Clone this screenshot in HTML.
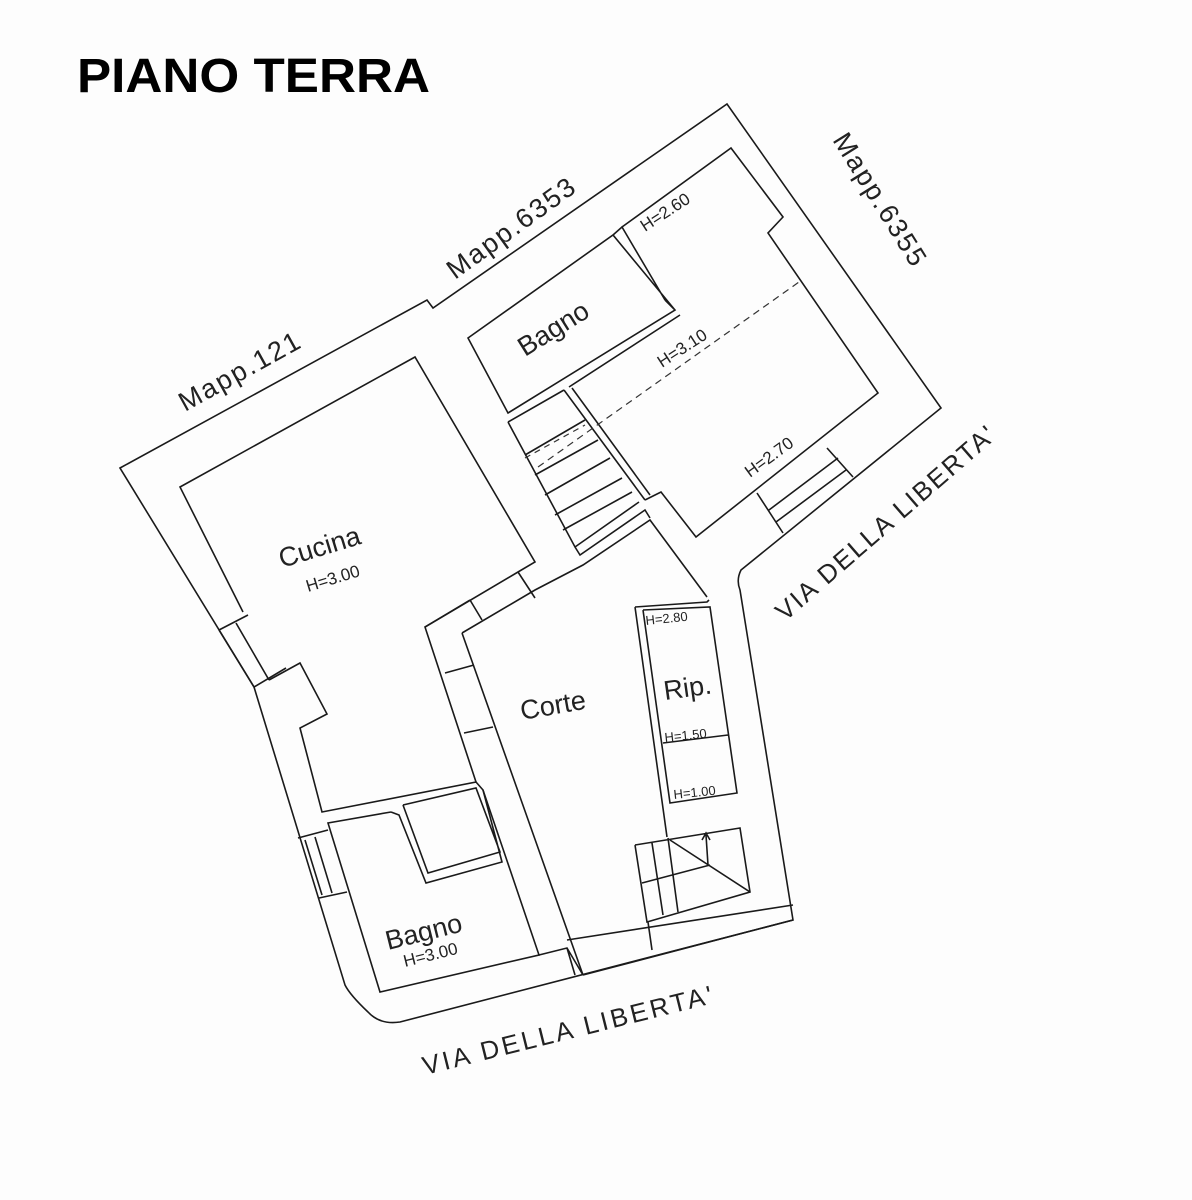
<!DOCTYPE html>
<html><head><meta charset="utf-8"><style>
html,body{margin:0;padding:0;background:#fff;}
svg{display:block;}
.w{fill:none;stroke:#1a1a1a;stroke-width:1.6;stroke-linejoin:miter;}
.t{font-family:"Liberation Sans",sans-serif;fill:#222;}
</style></head><body>
<svg width="1192" height="1200" viewBox="0 0 1192 1200" xmlns="http://www.w3.org/2000/svg">
<rect width="1192" height="1200" fill="#fdfdfd"/>
<text x="77" y="92" class="t" textLength="353" lengthAdjust="spacingAndGlyphs" style="font-weight:bold;font-size:48px;fill:#000">PIANO TERRA</text>

<!-- outer boundary -->
<path class="w" d="M120,468 L427,300 L433,308 L727,104 L941,408 L741,570 Q736,580 740,590 L793,920 L400,1022 Q380,1025 368,1012 Q350,995 345,985 L254,687 Z"/>

<!-- Cucina -->
<path class="w" d="M243,612 L180,487 L415,357 L535,562 L518,572 L425,627 L476,782 L322,812 L300,728 L327,714 L300,663 L269,680"/>
<!-- cucina left window -->
<path class="w" d="M219,630 L254,687 M236,623 L269,680 M219,630 L248,615 M254,687 L286,668"/>
<!-- wall cucina/corte door -->
<path class="w" d="M518,572 L535,598 M470,600 L482,620 M425,627 L470,600"/>

<!-- Corte walls -->
<path class="w" d="M462,633 L583,975 M462,633 L535,590 L583,565 L650,520 L707,597"/>
<path class="w" d="M445,673 L474,665 M464,733 L493,727"/>
<path class="w" d="M476,782 L483,790 L539,955 L380,992 L328,823 L391,812"/>
<!-- bagno lower shower -->
<path class="w" d="M391,812 L399,815 L426,883 L502,862 L483,790 M403,805 L476,788 L500,852 L428,873 L403,805"/>
<path class="w" d="M298,838 L328,830 M305,840 L322,895 M315,837 L332,893 M319,898 L347,892"/>
<path class="w" d="M539,955 L567,948 L583,975 M567,948 L575,975 M583,975 L793,920 M567,940 L793,905"/>

<!-- Rip -->
<path class="w" d="M635,607 L707,602 L709,600 M635,607 L667,837 M643,610 L670,803 L737,793 L710,607 L643,610 M663,743 L728,735"/>
<!-- stair bottom -->
<path class="w" d="M635,845 L740,828 L750,892 L647,922 L635,845 M642,883 L710,865 M652,843 L663,915 M668,838 L678,912 M670,840 L750,892 M708,865 L706,835 M702,840 L706,833 L710,840 M648,922 L652,950"/>

<!-- upper bagno -->
<path class="w" d="M468,338 L613,235 L675,310 L508,413 Z M613,235 L622,227 L665,300 M675,310 L665,300"/>
<!-- big room -->
<path class="w" d="M622,227 L731,148 L783,217 L768,233 L878,393 L696,537 L661,492 L645,500 M569,387 L680,315 M564,390 L645,500 M572,388 L650,495"/>
<!-- stairs -->
<path class="w" d="M508,422 L564,390 M508,422 L575,547 L639,502 M575,547 L580,555 L645,510 L650,518"/>
<path class="w" d="M525,455 L585,420 M535,475 L598,440 M545,495 L610,458 M555,515 L622,478 M563,530 L632,492"/>
<path d="M538,467 L799,282" stroke="#333" stroke-width="1.2" stroke-dasharray="7,5" fill="none"/>
<path d="M525,458 L585,425" stroke="#333" stroke-width="1.2" stroke-dasharray="6,5" fill="none"/>
<!-- right window -->
<path class="w" d="M827,448 L853,477 M757,493 L783,533 M769,510 L838,458 M776,522 L846,470"/>

<!-- labels -->
<g class="t" style="font-size:27px">
<text transform="translate(185,412) rotate(-29)" letter-spacing="2">Mapp.121</text>
<text transform="translate(455,280) rotate(-36)" letter-spacing="2">Mapp.6353</text>
<text transform="translate(832,140) rotate(58)" letter-spacing="2">Mapp.6355</text>
<text transform="translate(525,357) rotate(-32)">Bagno</text>
<text transform="translate(282,568) rotate(-17)">Cucina</text>
<text transform="translate(522,720) rotate(-10)">Corte</text>
<text transform="translate(665,700) rotate(-8)">Rip.</text>
<text transform="translate(388,950) rotate(-14)">Bagno</text>
<text transform="translate(425,1075) rotate(-14)" style="font-size:26px" letter-spacing="3">VIA DELLA LIBERTA'</text>
<text transform="translate(785,622) rotate(-41)" style="font-size:26px" letter-spacing="2">VIA DELLA LIBERTA'</text>
</g>
<g class="t" style="font-size:17px">
<text transform="translate(308,592) rotate(-17)">H=3.00</text>
<text transform="translate(405,967) rotate(-14)">H=3.00</text>
<text transform="translate(645,232) rotate(-33)">H=2.60</text>
<text transform="translate(662,368) rotate(-33)">H=3.10</text>
<text transform="translate(750,478) rotate(-36)">H=2.70</text>
</g>
<g class="t" style="font-size:13px">
<text transform="translate(646,625) rotate(-6)">H=2.80</text>
<text transform="translate(665,742) rotate(-6)">H=1.50</text>
<text transform="translate(674,799) rotate(-6)">H=1.00</text>
</g>
</svg>
</body></html>
